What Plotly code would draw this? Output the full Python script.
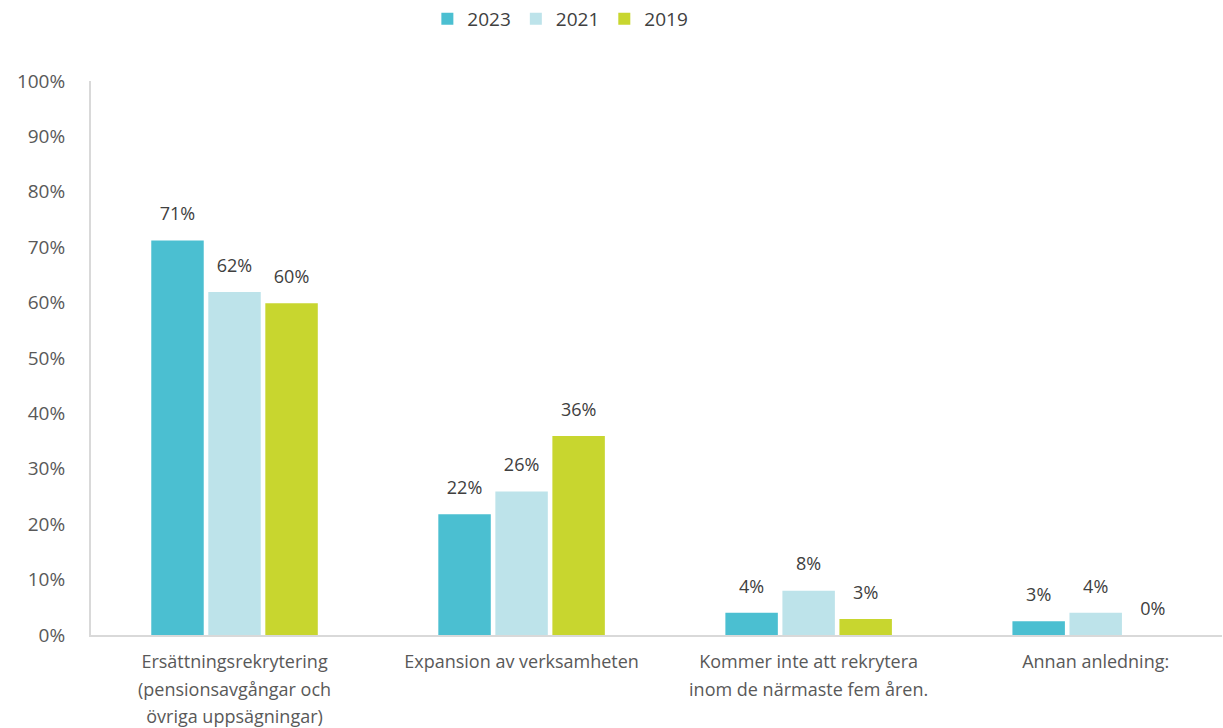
import plotly.graph_objects as go

categories = [
    "Ersättningsrekrytering<br>(pensionsavgångar och<br>övriga uppsägningar)",
    "Expansion av verksamheten",
    "Kommer inte att rekrytera<br>inom de närmaste fem åren.",
    "Annan anledning:",
]
series_names = ["2023", "2021", "2019"]
values_2023 = [71.2, 21.8, 4.0, 2.5]
values_2021 = [61.9, 25.9, 8.0, 4.0]
values_2019 = [59.9, 35.9, 2.9, 0.0]
labels_2023 = ["71%", "22%", "4%", "3%"]
labels_2021 = ["62%", "26%", "8%", "4%"]
labels_2019 = ["60%", "36%", "3%", "0%"]
y_ticks = [0, 10, 20, 30, 40, 50, 60, 70, 80, 90, 100]
y_tick_labels = [f"{v}%" for v in y_ticks]

colors = ["#4BBFD1", "#BDE3EA", "#C8D62F"]
font_family = "Open Sans, Lato, sans-serif"
text_color = "#595959"


def sized(s, px):
    return "<br>".join(f"<span style='font-size:{px}px'>{part}</span>" for part in s.split("<br>"))


fig = go.Figure()
for name, vals, labs, col in zip(series_names,
                                 [values_2023, values_2021, values_2019],
                                 [labels_2023, labels_2021, labels_2019],
                                 colors):
    fig.add_trace(go.Bar(
        name=name,
        x=list(range(len(categories))),
        y=vals,
        text=[sized(l, 18) + "<br> " for l in labs],
        textposition="outside",
        textfont=dict(size=11, color="#404040", family=font_family),
        cliponaxis=False,
        marker=dict(color=col, line=dict(width=0)),
    ))

fig.update_layout(
    width=1223,
    height=728,
    barmode="group",
    bargap=0.404,
    bargroupgap=0.08,
    plot_bgcolor="white",
    paper_bgcolor="white",
    margin=dict(l=91, r=1, t=81, b=93, autoexpand=False),
    font=dict(family=font_family, color=text_color, size=16),
    showlegend=True,
    legend=dict(
        orientation="h",
        x=0.415, xref="paper", xanchor="center",
        y=1.0, yref="container", yanchor="top",
        font=dict(size=19, color="#404040"),
        itemwidth=30,
        traceorder="normal",
    ),
    uniformtext=dict(mode=False),
)
fig.update_xaxes(
    tickmode="array",
    tickvals=list(range(len(categories))),
    ticktext=[sized(c, 18) for c in categories],
    range=[-0.5, 3.44],
    showline=True,
    linecolor="#D9D9D9",
    linewidth=2,
    showgrid=False,
    ticks="",
    automargin=False,
    ticklabelstandoff=6,
    tickfont=dict(size=21, color=text_color),
    zeroline=False,
)
fig.update_yaxes(
    range=[0, 100],
    tickmode="array",
    tickvals=y_ticks,
    ticktext=y_tick_labels,
    showline=True,
    linecolor="#D9D9D9",
    linewidth=2,
    showgrid=False,
    zeroline=False,
    ticks="",
    automargin=False,
    ticklabelstandoff=20,
    tickfont=dict(size=19, color=text_color),
)

fig.write_html("out.html", config={"displayModeBar": False},
               post_script="document.body.style.margin='0';")
